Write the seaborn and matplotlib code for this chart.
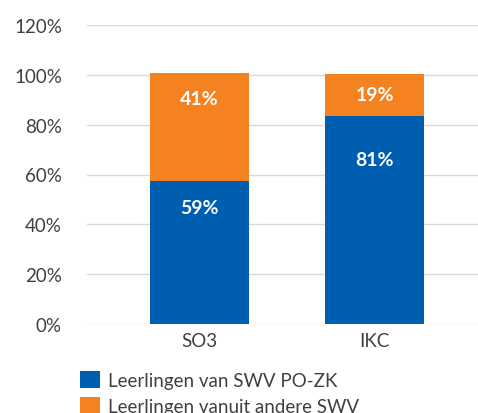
import matplotlib
matplotlib.use("Agg")
import matplotlib.pyplot as plt
import seaborn as sns
import pandas as pd
from matplotlib.patches import Patch

categories = ["SO3", "IKC"]
series_names = ["Leerlingen van SWV PO-ZK", "Leerlingen vanuit andere SWV"]
eigen = [57.3, 83.4]          # blue segment height (%)
andere = [43.6, 16.9]         # orange segment height (%)
eigen_labels = ["59%", "81%"]
andere_labels = ["41%", "19%"]
y_ticks = [0, 20, 40, 60, 80, 100, 120]

BLUE = "#005EB0"
ORANGE = "#F58220"
TXT = "#404040"

sns.set_theme(style="white")
plt.rcParams["font.family"] = ["Lato", "DejaVu Sans"]

fig = plt.figure(figsize=(4.78, 4.14), dpi=100)
ax = fig.add_axes([87/478, 1-325/414, (478-87)/478, (325-26)/414])

df = pd.DataFrame({"cat": categories,
                   "eigen": eigen,
                   "total": [a + b for a, b in zip(eigen, andere)]})

sns.barplot(data=df, x="cat", y="total", color=ORANGE, saturation=1,
            width=0.566, ax=ax, zorder=3, linewidth=0, edgecolor="none")
sns.barplot(data=df, x="cat", y="eigen", color=BLUE, saturation=1,
            width=0.566, ax=ax, zorder=4, linewidth=0, edgecolor="none")

ax.set_ylim(0, 120)
ax.set_xlim(-0.643, 1.591)
ax.set_yticks(y_ticks)
ax.set_yticklabels([f"{t}%" for t in y_ticks])
ax.yaxis.grid(True, color="#D9D9D9", linewidth=1)
ax.set_axisbelow(True)
for s in ax.spines.values():
    s.set_visible(False)
ax.tick_params(axis="both", length=0, labelsize=13.5, colors=TXT)
ax.tick_params(axis="y", pad=18)
ax.tick_params(axis="x", pad=6)
ax.set_xlabel("")
ax.set_ylabel("")

# data labels (offset below the top of each segment, in pixels)
off_eigen = [26, 43]
off_andere = [26, 20]
for i in range(len(categories)):
    top_b = eigen[i]
    top_o = eigen[i] + andere[i]
    ax.annotate(eigen_labels[i], (i, top_b), xytext=(0, -off_eigen[i]*0.72),
                textcoords="offset points", ha="center", va="center",
                color="white", fontsize=14, fontweight="bold", zorder=6)
    ax.annotate(andere_labels[i], (i, top_o), xytext=(0, -off_andere[i]*0.72),
                textcoords="offset points", ha="center", va="center",
                color="white", fontsize=14, fontweight="bold", zorder=6)

handles = [Patch(facecolor=BLUE, edgecolor="none"),
           Patch(facecolor=ORANGE, edgecolor="none")]
fig.legend(handles, series_names, loc="upper left",
           bbox_to_anchor=(65/478, 1-357/414), frameon=False,
           fontsize=13.5, labelcolor=TXT, handlelength=1.05, handleheight=1.05,
           handletextpad=0.45, labelspacing=0.4, borderpad=0.3)

fig.savefig("out.png", dpi=100)
